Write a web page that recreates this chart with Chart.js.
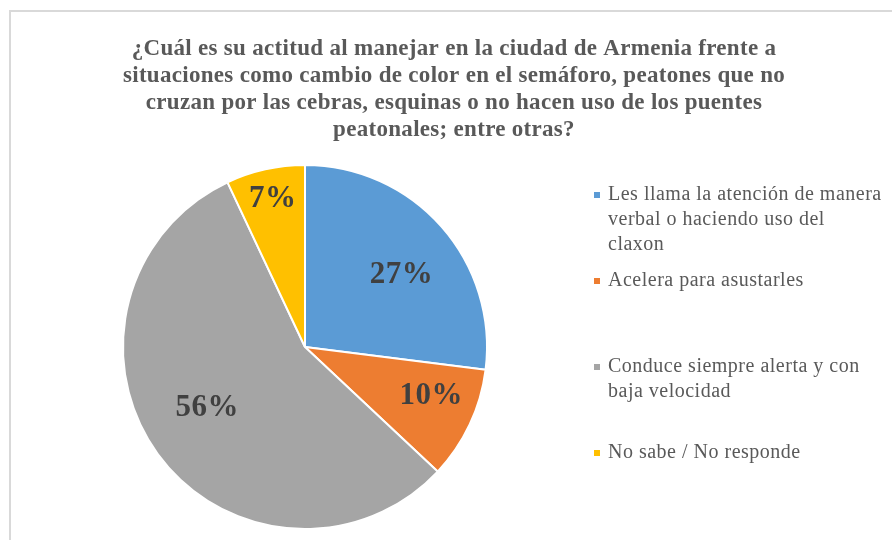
<!DOCTYPE html>
<html>
<head>
<meta charset="utf-8">
<script src="https://cdn.jsdelivr.net/npm/chart.js@4/dist/chart.umd.min.js"></script>
<style>
  html, body { margin: 0; padding: 0; background: #fff; overflow: hidden; }
  #frame {
    position: absolute; left: 9px; top: 10px; width: 900px; height: 540px;
    border-left: 2px solid #d9d9d9; border-top: 2px solid #d9d9d9;
  }
  #wrap { position: absolute; left: 0; top: 0; width: 892px; height: 540px; }
</style>
</head>
<body>
<div id="frame"></div>
<div id="wrap"><canvas id="chart" width="892" height="540"></canvas></div>
<script>
  var titleLines = [
    "¿Cuál es su actitud al manejar en la ciudad de Armenia frente a",
    "situaciones como cambio de color en el semáforo, peatones que no",
    "cruzan por las cebras, esquinas o no hacen uso de los puentes",
    "peatonales; entre otras?"
  ];
  var categories = [
    ["Les llama la atención de manera", "verbal o haciendo uso del", "claxon"],
    ["Acelera para asustarles"],
    ["Conduce siempre alerta y con", "baja velocidad"],
    ["No sabe / No responde"]
  ];
  var values = [27, 10, 56, 7];
  var sliceColors = ["#5b9bd5", "#ed7d31", "#a5a5a5", "#ffc000"];

  var serif = "'Liberation Serif', 'Times New Roman', serif";

  // wide title over the whole canvas (the built-in one is squeezed by the padding)
  var wideTitle = {
    id: "wideTitle",
    afterDraw: function (chart, args, opts) {
      var ctx = chart.ctx;
      ctx.save();
      ctx.font = "bold " + opts.size + "px " + serif;
      ctx.letterSpacing = opts.spacing;
      ctx.fillStyle = opts.color;
      ctx.textAlign = "center";
      ctx.textBaseline = "alphabetic";
      titleLines.forEach(function (line, i) {
        ctx.fillText(line, opts.x, opts.top + i * opts.lineHeight);
      });
      ctx.restore();
    }
  };

  // percent labels inside the slices, near each slice's mid angle
  var sliceLabels = {
    id: "sliceLabels",
    afterDatasetsDraw: function (chart, args, opts) {
      var ctx = chart.ctx;
      var meta = chart.getDatasetMeta(0);
      var total = values.reduce(function (a, b) { return a + b; }, 0);
      ctx.save();
      ctx.font = "bold " + opts.size + "px " + serif;
      ctx.letterSpacing = opts.spacing;
      ctx.fillStyle = opts.color;
      ctx.textAlign = "center";
      ctx.textBaseline = "middle";
      meta.data.forEach(function (arc, i) {
        var p = arc.getProps(["x", "y", "startAngle", "endAngle", "outerRadius"], true);
        var mid = (p.startAngle + p.endAngle) / 2 + opts.shift[i] * Math.PI / 180;
        var r = p.outerRadius * opts.radius[i];
        var pct = Math.round(values[i] / total * 100) + "%";
        ctx.fillText(pct, p.x + Math.cos(mid) * r, p.y + Math.sin(mid) * r);
      });
      ctx.restore();
    }
  };

  // legend on the right, one evenly spaced slot per entry
  var sideLegend = {
    id: "sideLegend",
    afterDraw: function (chart, args, opts) {
      var ctx = chart.ctx;
      ctx.save();
      ctx.font = opts.size + "px " + serif;
      ctx.letterSpacing = opts.spacing;
      ctx.textBaseline = "middle";
      ctx.textAlign = "left";
      categories.forEach(function (lines, i) {
        var y = opts.top + i * opts.slot;
        ctx.fillStyle = sliceColors[i];
        ctx.fillRect(opts.x, y - opts.box / 2, opts.box, opts.box);
        ctx.fillStyle = opts.color;
        lines.forEach(function (line, j) {
          ctx.fillText(line, opts.x + opts.textGap, y + j * opts.lineHeight);
        });
      });
      ctx.restore();
    }
  };

  new Chart(document.getElementById("chart"), {
    type: "pie",
    data: {
      labels: categories,
      datasets: [{
        data: values,
        backgroundColor: sliceColors,
        borderColor: "#ffffff",
        borderWidth: 2
      }]
    },
    options: {
      responsive: false,
      animation: false,
      layout: { padding: { left: 122, right: 404, top: 163, bottom: 9 } },
      plugins: {
        legend: { display: false },
        tooltip: { enabled: false },
        title: { display: false },
        wideTitle: { x: 454, top: 55, lineHeight: 27, size: 23, spacing: "0.3px", color: "#595959" },
        sliceLabels: {
          size: 31, spacing: "0.5px", color: "#404040",
          radius: [0.663, 0.744, 0.634, 0.835],
          shift: [4.5, -4, 4, 0.3]
        },
        sideLegend: {
          x: 594, top: 195, slot: 86, box: 6, textGap: 14, lineHeight: 25,
          size: 20, spacing: "0.5px", color: "#595959"
        }
      }
    },
    plugins: [wideTitle, sliceLabels, sideLegend]
  });
</script>
</body>
</html>
